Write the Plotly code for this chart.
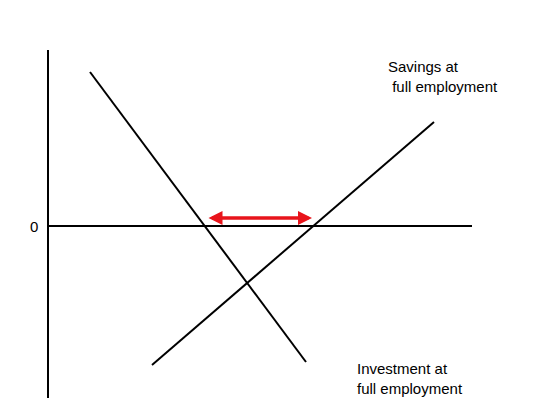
import plotly.graph_objects as go

# schematic coordinates (pixel-like units, y grows downward)
axis_x = [48, 48]
axis_y = [50, 398]
zero_x = [48, 472]
zero_y = [226, 226]
invest_x = [90, 306]
invest_y = [72, 362]
savings_x = [152, 434]
savings_y = [365, 122]
gap_x = [207, 312]
gap_y = [218, 218]

line = dict(color="black", width=2)
fig = go.Figure()
for xs, ys in [(axis_x, axis_y), (zero_x, zero_y), (invest_x, invest_y), (savings_x, savings_y)]:
    fig.add_trace(go.Scatter(x=xs, y=ys, mode="lines", line=line, hoverinfo="skip"))

fig.add_annotation(x=gap_x[1], y=gap_y[1], ax=gap_x[0], ay=gap_y[0],
                   xref="x", yref="y", axref="x", ayref="y", text="",
                   showarrow=True, arrowhead=2, startarrowhead=2, arrowside="end+start",
                   arrowwidth=3.5, arrowsize=0.8, startarrowsize=0.8, arrowcolor="#e8141b")

txt = dict(size=15, color="black", family="Liberation Sans")
fig.add_annotation(x=5, y=18, text="Interest rate", showarrow=False, xanchor="left", font=txt)
fig.add_annotation(x=34, y=226, text="0", showarrow=False, font=txt)
fig.add_annotation(x=386, y=76, text="Savings at<br> full employment", showarrow=False,
                   xanchor="left", align="left", font=txt)
fig.add_annotation(x=355, y=378, text="Investment at<br>full employment", showarrow=False,
                   xanchor="left", align="left", font=txt)

fig.update_layout(
    width=550, height=415, margin=dict(l=0, r=0, t=0, b=0),
    showlegend=False, plot_bgcolor="white", paper_bgcolor="white",
    xaxis=dict(range=[8, 558], visible=False),
    yaxis=dict(range=[423, 8], visible=False),
)
fig.write_html("out.html")
